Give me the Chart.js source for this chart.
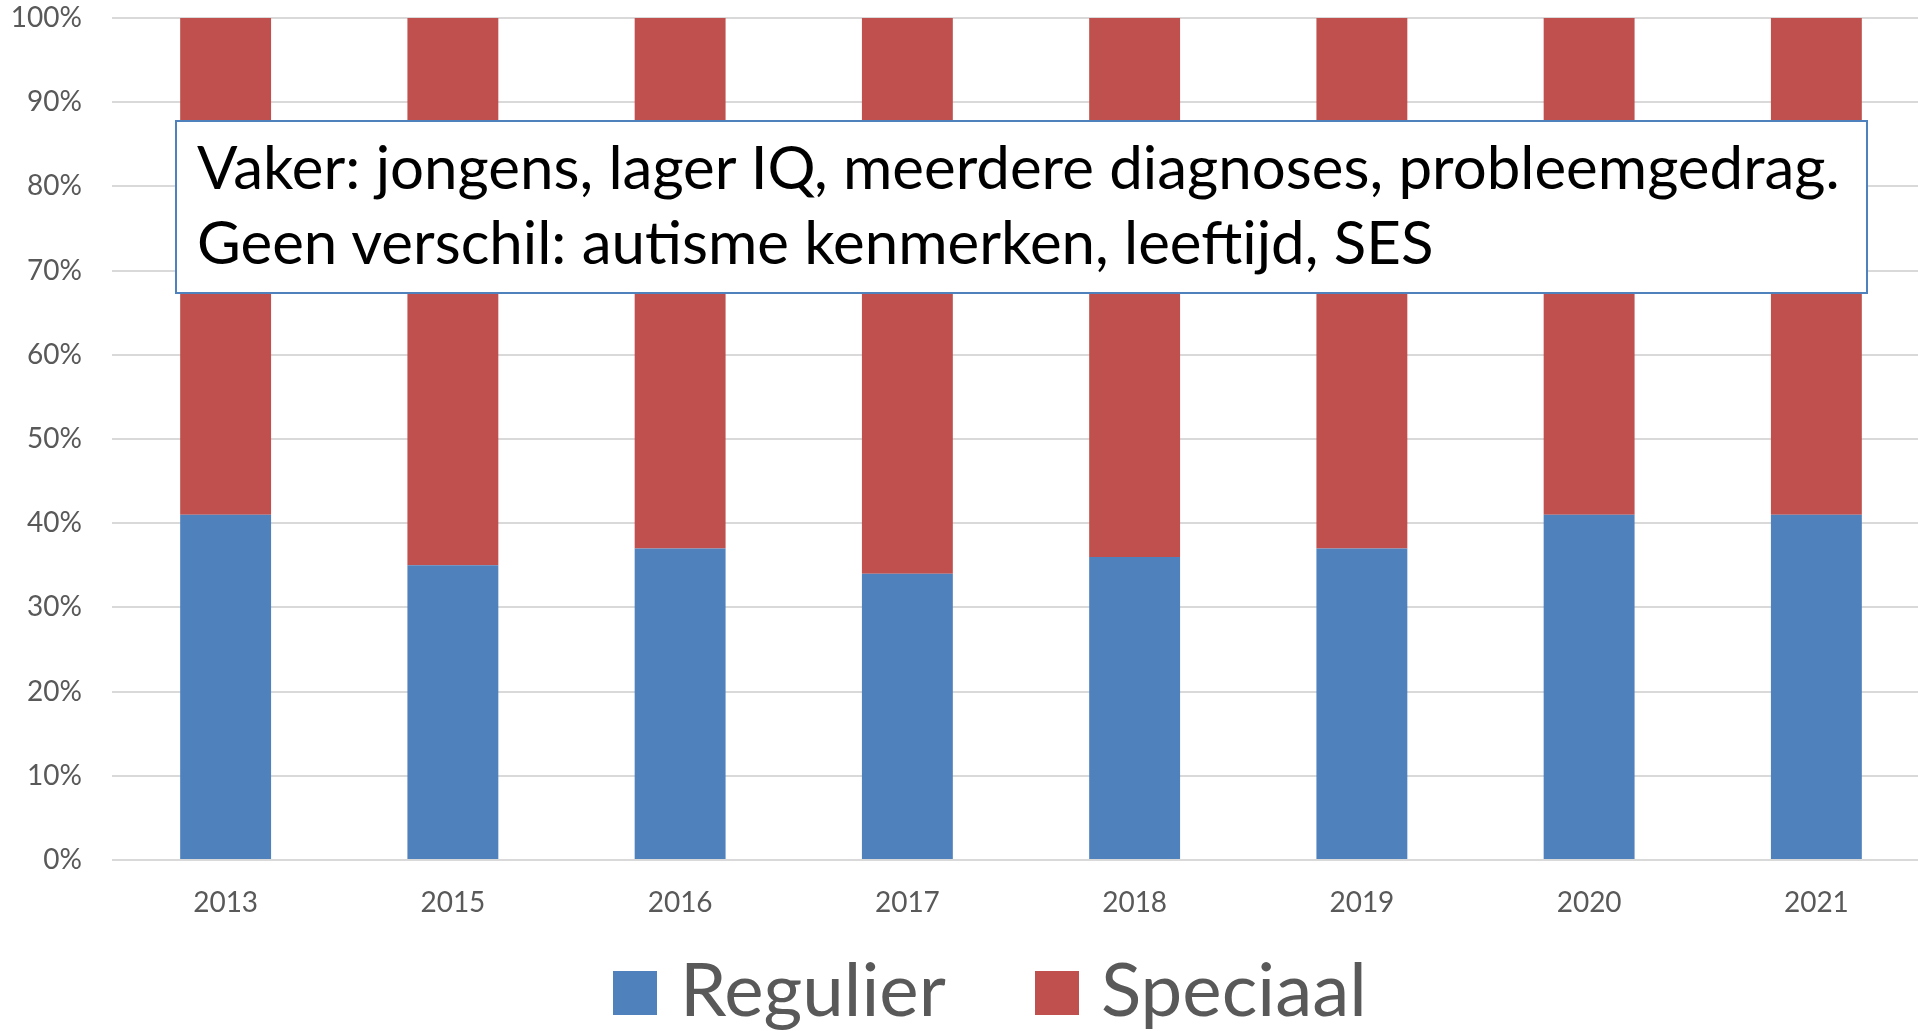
<!DOCTYPE html>
<html lang="nl">
<head>
  <meta charset="UTF-8">
  <title>Regulier vs Speciaal</title>
  <script src="https://cdn.jsdelivr.net/npm/chart.js"></script>
  <style>
    html, body { margin: 0; padding: 0; background: #fff; overflow: hidden; }
    #wrap { position: relative; width: 1932px; height: 1031px; }
    #note {
      position: absolute; left: 175px; top: 120px; width: 1693px; height: 174px;
      border: 2px solid #4F81BD; background: #fff; box-sizing: border-box;
      font-family: Lato, sans-serif; font-size: 60px; line-height: 75px; color: #000;
      padding: 7px 0 0 20px; white-space: nowrap;
    }
    .lg-box { position: absolute; width: 44px; height: 44px; top: 971px; }
    .lg-text {
      position: absolute; top: 943px; font-family: Lato, sans-serif; font-size: 74.5px;
      line-height: 1.2; color: #595959; white-space: nowrap;
    }
  </style>
</head>
<body>
<div id="wrap">
  <canvas id="chart" width="1932" height="1031"></canvas>
  <div id="note">Vaker: jongens, lager IQ, meerdere diagnoses, probleemgedrag.<br>Geen verschil: autisme kenmerken, leeftijd, SES</div>
  <div id="legend"></div>
</div>

<script>
const years = ['2013', '2015', '2016', '2017', '2018', '2019', '2020', '2021'];
const regulier = [41, 35, 37, 34, 36, 37, 41, 41];
const speciaal = [59, 65, 63, 66, 64, 63, 59, 59];
const yTicks = [0, 10, 20, 30, 40, 50, 60, 70, 80, 90, 100];

const seriesNames = ['Regulier', 'Speciaal'];
const seriesColors = ['#4F81BD', '#C0504D'];

const tickFont = { family: 'Lato', size: 28 };

const chart = new Chart(document.getElementById('chart'), {
  type: 'bar',
  data: {
    labels: years,
    datasets: [
      { label: seriesNames[0], data: regulier, backgroundColor: seriesColors[0] },
      { label: seriesNames[1], data: speciaal, backgroundColor: seriesColors[1] }
    ]
  },
  options: {
    responsive: false,
    animation: false,
    layout: { padding: { top: 18, right: 2, left: 0, bottom: 0 } },
    datasets: { bar: { categoryPercentage: 1, barPercentage: 0.4 } },
    plugins: { legend: { display: false }, tooltip: { enabled: false } },
    scales: {
      x: {
        stacked: true,
        grid: { display: false },
        border: { display: false },
        ticks: { color: '#595959', font: tickFont, padding: 18, maxRotation: 0 },
        afterFit: s => { s.height = 171; }
      },
      y: {
        stacked: true,
        min: 0,
        max: 100,
        afterBuildTicks: s => { s.ticks = yTicks.map(v => ({ value: v })); },
        grid: { color: '#D9D9D9', lineWidth: 2, drawTicks: false },
        border: { display: false },
        ticks: { color: '#595959', font: tickFont, padding: 30, callback: v => v + '%' },
        afterFit: s => { s.width = 112; s.paddingTop = 0; s.paddingBottom = 0; }
      }
    }
  }
});

// legend from the series
const legend = document.getElementById('legend');
const boxX = [613, 1035];
const textX = [680, 1101];
seriesNames.forEach((name, i) => {
  const box = document.createElement('div');
  box.className = 'lg-box';
  box.style.left = boxX[i] + 'px';
  box.style.background = seriesColors[i];
  const txt = document.createElement('div');
  txt.className = 'lg-text';
  txt.style.left = textX[i] + 'px';
  txt.textContent = name;
  legend.appendChild(box);
  legend.appendChild(txt);
});
</script>
</body>
</html>
